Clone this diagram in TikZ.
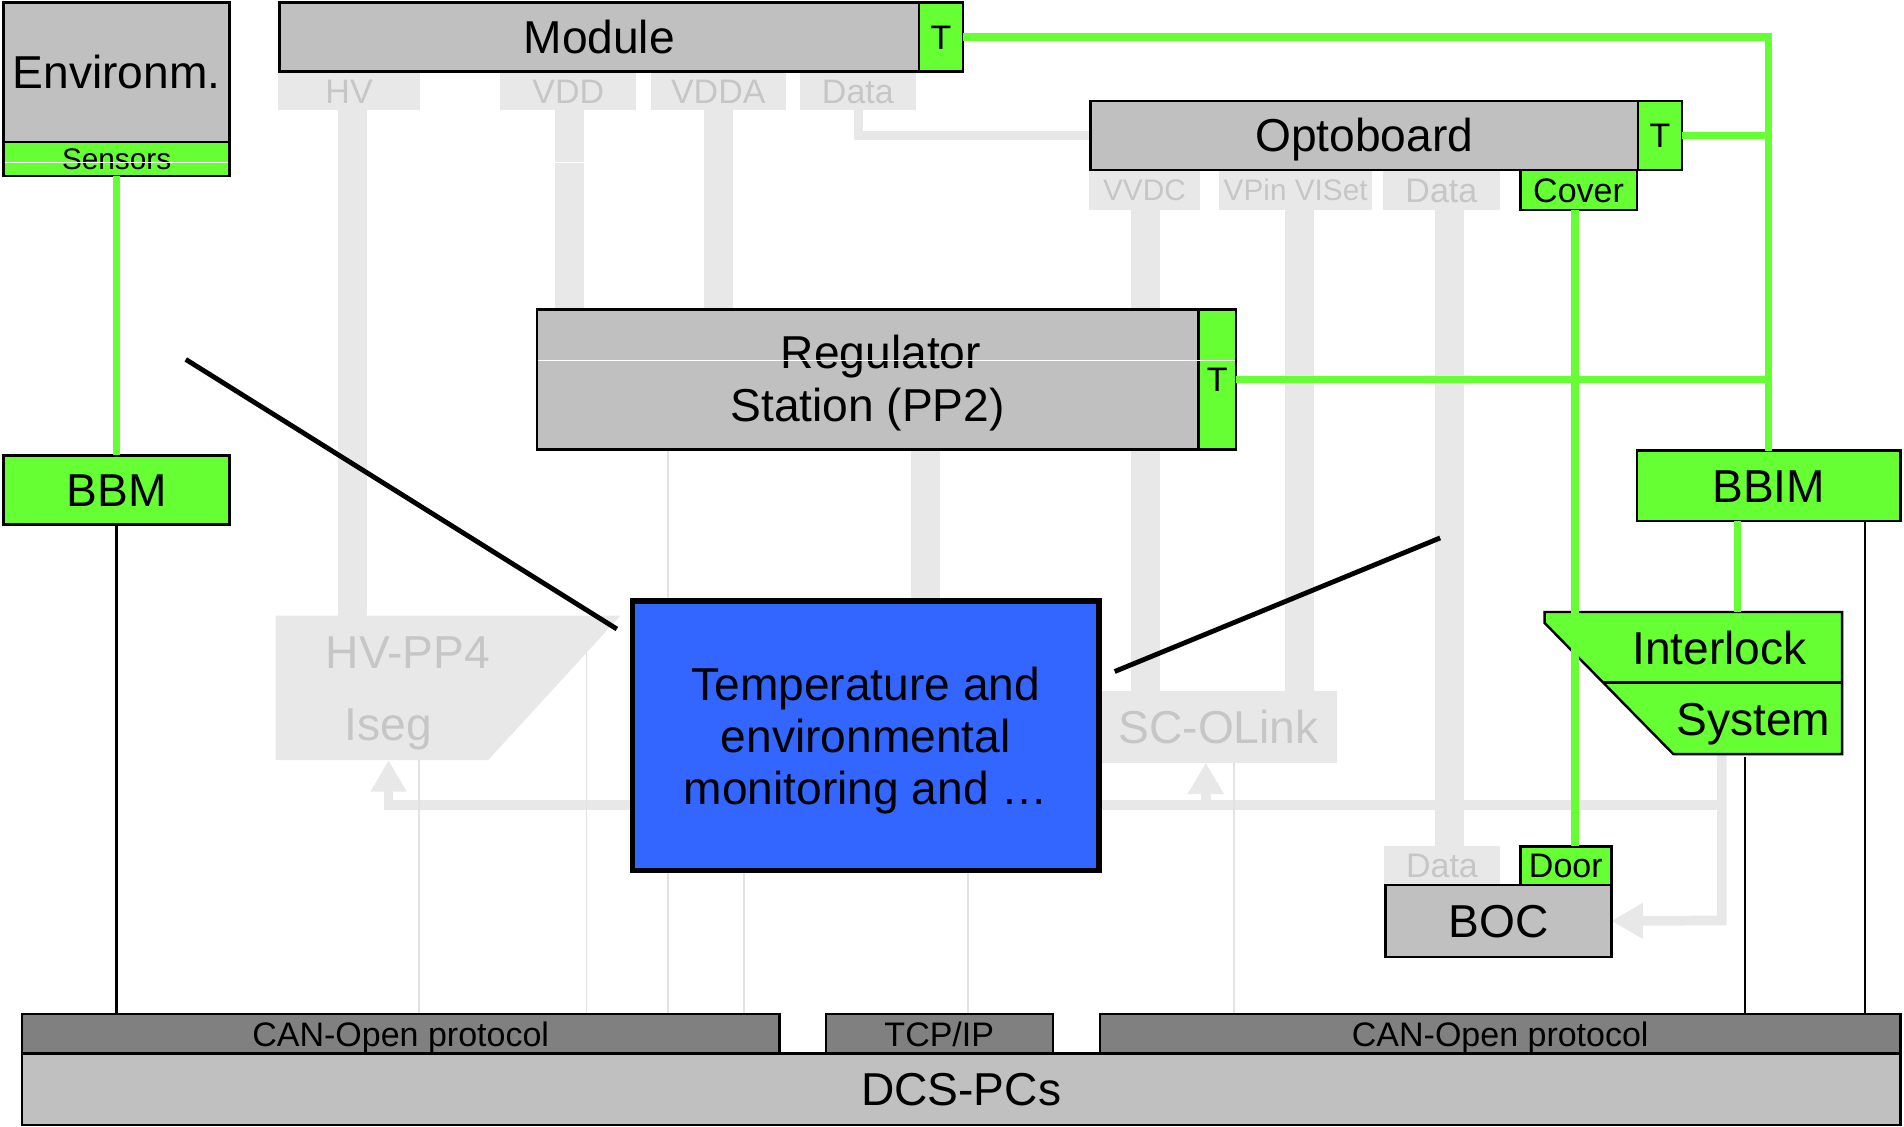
\documentclass[tikz,border=0pt]{standalone}
\usepackage{fontspec}
\setmainfont{Liberation Sans}
\usetikzlibrary{arrows.meta}
\pgfdeclarelayer{bg}
\pgfsetlayers{bg,main}
\definecolor{gbox}{HTML}{C0C0C0}
\definecolor{grn}{HTML}{66FF33}
\definecolor{blu}{HTML}{3366FF}
\definecolor{lbar}{HTML}{E8E8E8}
\definecolor{lline}{HTML}{E2E2E2}
\definecolor{ltxt}{HTML}{C6C6C6}
\definecolor{dgray}{HTML}{808080}
\begin{document}
\begin{tikzpicture}[x=1pt,y=-1pt,
  big/.style={font=\fontsize{38}{43}\selectfont,text height=27.2pt,text depth=0pt},
  mid/.style={font=\fontsize{28}{32}\selectfont,text height=20pt,text depth=0pt},
  sml/.style={font=\fontsize{24.5}{28}\selectfont,text height=17.5pt,text depth=0pt},
  box/.style={draw=black,line width=2pt,inner sep=0pt,outer sep=0pt,align=center,big},
  graybox/.style={box,fill=gbox},
  greenbox/.style={box,fill=grn},
  lab/.style={fill=lbar,text=ltxt,inner sep=0pt,outer sep=0pt,mid},
  ltext/.style={text=ltxt,inner sep=0pt,big},
  multi/.style={inner sep=0pt,align=center,font=\fontsize{38}{43}\selectfont},
  bar/.style={draw=lbar,line width=24pt},
  thinl/.style={draw=lline,line width=1.5pt},
  gline/.style={draw=grn,line width=6pt},
  kline/.style={draw=black,line width=2pt},
  diag/.style={draw=black,line width=4pt},
  larrow/.style={draw=lbar,line width=8pt,line join=miter,-{Triangle[width=28pt,length=26pt]}},
]
\useasboundingbox (0,0) rectangle (1568,928);

% ---------- light (background) nodes ----------
\node[lab,minimum width=117pt,minimum height=32pt] (hvl) at (287.5,75) {HV};
\node[lab,minimum width=112pt,minimum height=32pt] (vddl) at (468,75) {VDD};
\node[lab,minimum width=111pt,minimum height=32pt] (vddal) at (591.5,75) {VDDA};
\node[lab,minimum width=95pt,minimum height=32pt] (datal) at (706.5,75) {Data};
\node[lab,sml,minimum width=91pt,minimum height=33pt] (vvdcl) at (942.5,156.5) {VVDC};
\node[lab,sml,minimum width=126pt,minimum height=33pt] (vpinl) at (1067,156.5) {VPin VISet};
\node[lab,minimum width=96pt,minimum height=33pt] (data2l) at (1187,156.5) {Data};
\node[lab,minimum width=95pt,minimum height=32pt] (data3l) at (1187.5,713) {Data};

\fill[lbar] (227,507) coordinate (tpA) -- (511,507) coordinate (tpB)
  -- (402,626) coordinate (tpC) -- (227,626) coordinate (tpD) -- cycle;
\node[ltext] (hvpp) at (336,537) {HV-PP4};
\node[ltext] (iseg) at (320,596) {Iseg};
\node[lab,big,minimum width=195pt,minimum height=59pt] (scol) at (1003.5,598.5) {SC-OLink};

% ---------- main boxes ----------
\node[graybox,minimum width=186pt,minimum height=115pt] (env) at (96,59.5) {Environm.};
\node[greenbox,sml,minimum width=186pt,minimum height=28pt] (sens) at (96,131) {Sensors};
\node[graybox,minimum width=527pt,minimum height=57pt] (mod) at (493.5,30.5) {Module};
\node[greenbox,mid,minimum width=36pt,minimum height=57pt] (modT) at (775,30.5) {T};
\node[graybox,minimum width=451pt,minimum height=57pt] (opto) at (1123.5,111.5) {Optoboard};
\node[greenbox,mid,minimum width=36pt,minimum height=57pt] (optoT) at (1367,111.5) {T};
\node[greenbox,mid,minimum width=96pt,minimum height=33pt] (cover) at (1300,156.5) {Cover};
\node[graybox,minimum width=545pt,minimum height=115pt] (reg) at (714.5,312.5) {};
\node[multi] (regtxt) at ([yshift=-3pt]reg.center) {\hspace*{22pt}Regulator\\Station (PP2)};
\node[greenbox,mid,minimum width=31pt,minimum height=115pt] (regT) at (1002.5,312.5) {T};
\draw[white,line width=0.8pt] (443,296.6) -- (1017,296.6);
\node[greenbox,minimum width=186pt,minimum height=57pt] (bbm) at (96,403.5) {BBM};
\node[greenbox,minimum width=217pt,minimum height=58pt] (bbim) at (1456.5,400) {BBIM};
\node[greenbox,mid,minimum width=75pt,minimum height=32pt] (door) at (1289.5,713) {Door};
\node[graybox,minimum width=186pt,minimum height=59pt] (boc) at (1234,758.5) {BOC};

\node[box,fill=dgray,mid,minimum width=624pt,minimum height=33pt] (can1) at (330,851.5) {CAN-Open protocol};
\node[box,fill=dgray,mid,minimum width=187pt,minimum height=33pt] (tcp) at (773.5,851.5) {TCP/IP};
\node[box,fill=dgray,mid,minimum width=659pt,minimum height=33pt] (can2) at (1235.5,851.5) {CAN-Open protocol};
\node[graybox,minimum width=1547pt,minimum height=59pt] (dcs) at (791.5,897) {DCS-PCs};

% interlock system
\filldraw[fill=grn,draw=black,line width=2pt,line join=miter]
  (1272,504) coordinate (ilTL) -- (1517,504) coordinate (ilTR) -- (1517,621) coordinate (ilBR)
  -- (1378,621) coordinate (ilBL) -- (1272,513) -- cycle;
\draw[black,line width=2pt] (1321,562) -- (1517,562);
\node[big,inner sep=0pt] (ilt1) at (1416,534) {Interlock};
\node[big,inner sep=0pt] (ilt2) at (1444,592) {System};
\coordinate (ilIn) at (1431,504);
\coordinate (ilOut) at (1418,621);
\coordinate (ilK) at (1437,623);

% ---------- background bars and lines ----------
\begin{pgfonlayer}{bg}
  \draw[bar] ([xshift=2.5pt]hvl.south) -- ([xshift=2.5pt]hvl.south |- tpA);
  \draw[bar] ([xshift=1pt]vddl.south) -- ([xshift=1pt]vddl.south |- reg.north);
  \draw[bar] (vddal.south) -- (vddal.south |- reg.north);
  \draw[lbar,line width=7pt] ([xshift=0.5pt]datal.south) |- (opto.west);
  \draw[bar] ([xshift=0.5pt]vvdcl.south) -- ([xshift=0.5pt]vvdcl.south |- scol.north);
  \draw[bar] ([xshift=3.5pt]vpinl.south) -- ([xshift=3.5pt]vpinl.south |- scol.north);
  \draw[bar] ([xshift=7pt]data2l.south) -- ([xshift=7pt]data2l.south |- data3l.north);
  \draw[bar] ([xshift=48pt]reg.south) -- ([xshift=48pt]reg.south |- 0,663);
  % distribution arrows
  \draw[lbar,line width=8pt] (316,663) coordinate (hbL) -- (ilOut |- hbL);
  \draw[larrow] (320,667) -- (iseg.south |- tpD);
  \draw[larrow] (993,667) -- (993,628);
  \draw[larrow] (ilOut) -- (1418,758) -- (boc.east);
  % thin lines
  \draw[thinl] (345,626) -- (345,834);
  \draw[thinl] (483,538) -- (483,834);
  \draw[thinl] (550,370) -- (550,834);
  \draw[thinl] (613,700) -- (613,834);
  \draw[thinl] (797,700) -- (797,834);
  \draw[thinl] (1016,628) -- (1016,834);
\end{pgfonlayer}
\draw[white,line width=0.8pt] (4,133.7) -- (188,133.7);
\draw[white,line width=0.8pt] (457,133.7) -- (481,133.7);

% ---------- green connections ----------
\draw[gline] (modT.east) -| (bbim.north);
\draw[gline] (optoT.east) -- (optoT.east -| bbim.north);
\draw[gline] (regT.east) -- (regT.east -| bbim.north);
\draw[gline] (sens.south) -- (bbm.north);
\draw[gline] ([xshift=-3pt]cover.south) -- ([xshift=-3pt]cover.south |- door.north);
\draw[gline] (bbim.south -| ilIn) -- (ilIn);

% ---------- black connections ----------
\draw[kline] (bbm.south) -- (bbm.south |- can1.north);
\draw[kline] ([xshift=79.5pt]bbim.south) -- ([xshift=79.5pt]bbim.south |- can2.north);
\draw[kline] (ilK) -- (ilK |- can2.north);

% ---------- highlighted box ----------
\node[box,fill=blu,line width=4.5pt,minimum width=384pt,minimum height=222pt] (tem) at (713,606) {};
\node[multi] (temtxt) at ([yshift=-4pt]tem.center) {Temperature and\\environmental\\monitoring and …};
\coordinate (d1a) at (153,296);
\coordinate (d1b) at (508,518);
\coordinate (d2a) at (1186,443);
\coordinate (d2b) at (918,553);
\draw[diag] (d1a) -- (d1b);
\draw[diag] (d2a) -- (d2b);
\end{tikzpicture}
\end{document}
